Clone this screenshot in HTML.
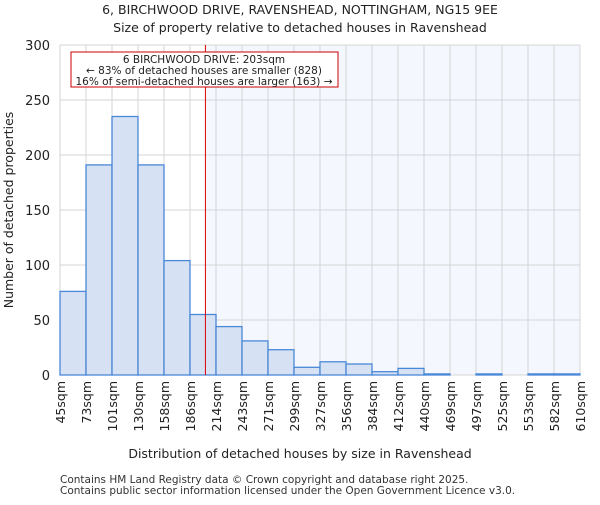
<!DOCTYPE html>
<html><head><meta charset="utf-8"><style>
body{margin:0;background:#fff;}
svg{font-family:"DejaVu Sans","Liberation Sans",sans-serif;}
</style></head><body>
<svg id="chart" width="600" height="500">
<text x="300" y="14" text-anchor="middle" font-size="12.5" fill="#222">6, BIRCHWOOD DRIVE, RAVENSHEAD, NOTTINGHAM, NG15 9EE</text>
<text x="300" y="32" text-anchor="middle" font-size="12.5" fill="#222">Size of property relative to detached houses in Ravenshead</text>
<g id="plot"></g>
<text x="300" y="458" text-anchor="middle" font-size="12.5" fill="#222">Distribution of detached houses by size in Ravenshead</text>
<text transform="translate(13,210) rotate(-90)" text-anchor="middle" font-size="12.5" fill="#222">Number of detached properties</text>
<text x="60" y="483" font-size="10.5" fill="#333">Contains HM Land Registry data © Crown copyright and database right 2025.</text>
<text x="60" y="494" font-size="10.5" fill="#333">Contains public sector information licensed under the Open Government Licence v3.0.</text>
</svg>
<script>
const binLabels=["45sqm","73sqm","101sqm","130sqm","158sqm","186sqm","214sqm","243sqm","271sqm","299sqm","327sqm","356sqm","384sqm","412sqm","440sqm","469sqm","497sqm","525sqm","553sqm","582sqm","610sqm"];
const counts=[76,191,235,191,104,55,44,31,23,7,12,10,3,6,1,0,1,0,1,1];
const yTicks=[0,50,100,150,200,250,300];
const subjectSize=203;
const binStart=45, binEnd=610;
const NS="http://www.w3.org/2000/svg";
const X0=60,X1=580,Y0=375,Y1=45;
const bw=(X1-X0)/counts.length;
const ys=v=>Y0-(v/300)*(Y0-Y1);
const xs=s=>X0+(s-binStart)/(binEnd-binStart)*(X1-X0);
const g=document.getElementById('plot');
function mk(t,a){const e=document.createElementNS(NS,t);for(const k in a)e.setAttribute(k,a[k]);g.appendChild(e);return e;}
const rx=xs(subjectSize);
let e=mk('rect',{x:X0,y:Y1,width:X1-X0,height:Y0-Y1,fill:'#ffffff'});


e=mk('rect',{x:rx,y:Y1,width:X1-rx,height:Y0-Y1,fill:'#f4f7fe'});


for(let i=0;i<=counts.length;i++){
 e=mk('line',{x1:X0+i*bw,x2:X0+i*bw,y1:Y1,y2:Y0,stroke:'#d4d4d4','stroke-width':1});
 
 
}
yTicks.forEach(t=>{
 e=mk('line',{x1:X0,x2:X1,y1:ys(t),y2:ys(t),stroke:'#d4d4d4','stroke-width':1});
 
 
 e=mk('text',{x:X0-10,y:ys(t)+5,'text-anchor':'end','font-size':13,fill:'#222'});
 e.textContent=t;
 
 
});
counts.forEach((c,i)=>{
 e=mk('rect',{x:X0+i*bw,y:ys(c),width:bw,height:Y0-ys(c),fill:'#d6e2f3',stroke:'#4a88d8','stroke-width':1.3});
 
 
});
binLabels.forEach((l,i)=>{
 const x=X0+i*bw;
 e=mk('text',{transform:`translate(${x+5},${Y0+6}) rotate(-90)`,'text-anchor':'end','font-size':12.5,fill:'#222'});
 e.textContent=l;
 
 
});
e=mk('line',{x1:rx,x2:rx,y1:Y1,y2:Y0,stroke:'#dd0000','stroke-width':1});


e=mk('rect',{x:71,y:52,width:267,height:35,fill:'#fff',stroke:'#cc0000','stroke-width':1});


[["6 BIRCHWOOD DRIVE: 203sqm",63],["← 83% of detached houses are smaller (828)",74],["16% of semi-detached houses are larger (163) →",85]].forEach(([t,y])=>{
 e=mk('text',{x:204,y:y,'text-anchor':'middle','font-size':10.5,fill:'#222'});
 e.textContent=t;
 
 
});
</script>
</body></html>
